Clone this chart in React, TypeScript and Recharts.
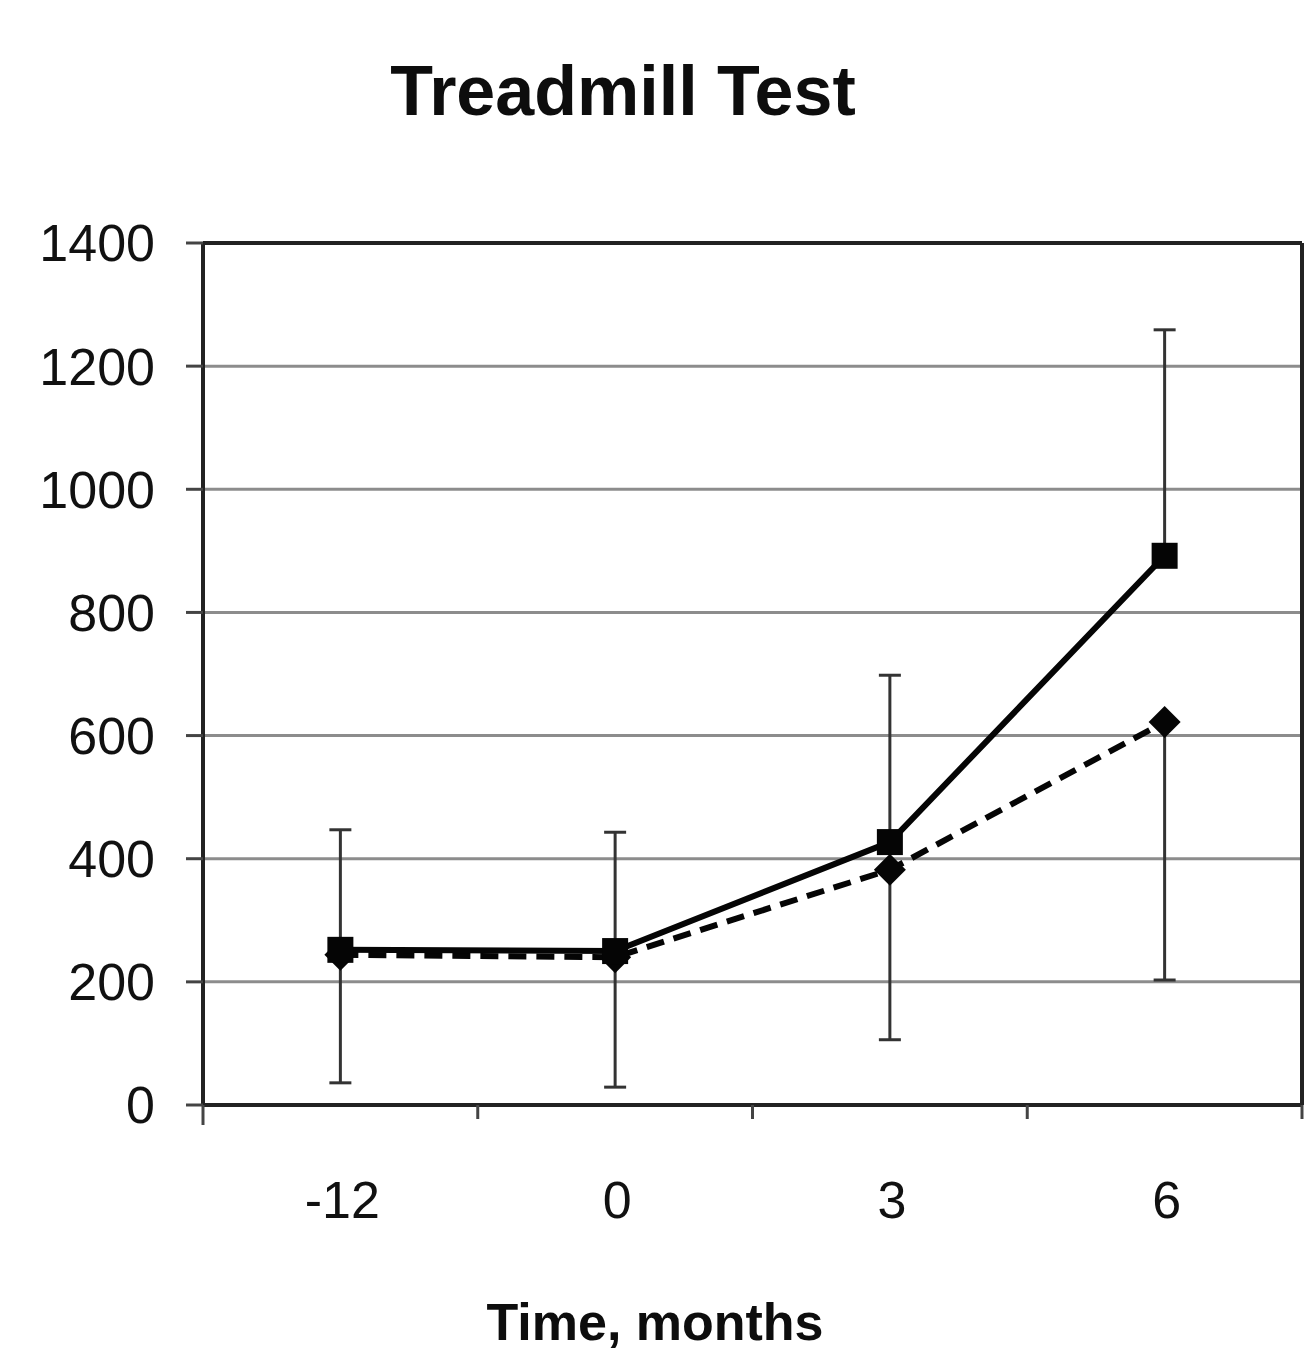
import React from 'react';
import { LineChart, Line, XAxis, YAxis, CartesianGrid, ErrorBar, ReferenceLine } from 'recharts';

// time points, months
const categories = ['-12', '0', '3', '6'];

// series drawn with squares (solid line) and diamonds (dashed line)
const squareValues = [252, 250, 427, 892];
const diamondValues = [244, 240, 382, 622];

// top of the error bar (square series) and bottom of the error bar (diamond series)
const upperBound = [447, 443, 698, 1259];
const lowerBound = [36, 29, 106, 203];

const yTicks = [0, 200, 400, 600, 800, 1000, 1200, 1400];

const data = categories.map((c, i) => ({
    x: i + 0.5,
    label: c,
    square: squareValues[i],
    diamond: diamondValues[i],
    squareErr: [0, upperBound[i] - squareValues[i]],
    diamondErr: [diamondValues[i] - lowerBound[i], 0],
}));

const FONT = '"Liberation Sans", Arial, Helvetica, sans-serif';

const SquareDot = (props: any) => {
    const { cx, cy } = props;
    if (cx == null || cy == null) return null;
    return <rect key={`sq-${cx}`} x={cx - 13} y={cy - 13} width={26} height={26} fill="#050505" />;
};

const DiamondDot = (props: any) => {
    const { cx, cy } = props;
    if (cx == null || cy == null) return null;
    const r = 16;
    return (
        <polygon
            key={`dm-${cx}`}
            points={`${cx},${cy - r} ${cx + r},${cy} ${cx},${cy + r} ${cx - r},${cy}`}
            fill="#050505"
        />
    );
};

const XTick = (props: any) => {
    const { x, y, payload } = props;
    const v = payload.value as number;
    if (Number.isInteger(v)) {
        return <line x1={x} y1={y} x2={x} y2={y + (v === 0 ? 20 : 14)} stroke="#444" strokeWidth={3} />;
    }
    const idx = Math.floor(v);
    return (
        <text x={x + 2} y={y + 113} textAnchor="middle" fontFamily={FONT} fontSize={52} fill="#111">
            {categories[idx]}
        </text>
    );
};

export default function App() {
    return (
        <div style={{ position: 'absolute', left: 0, top: 0, width: 1304, height: 1362, background: '#fff' }}>
            <div
                style={{
                    position: 'absolute',
                    left: 0,
                    top: 51,
                    width: 1246,
                    textAlign: 'center',
                    fontFamily: FONT,
                    fontWeight: 'bold',
                    fontSize: 70,
                    lineHeight: '80px',
                    color: '#0d0d0d',
                }}
            >
                Treadmill Test
            </div>
            <LineChart
                width={1304}
                height={1362}
                data={data}
                margin={{ top: 243, right: 2, bottom: 117, left: 0 }}
            >
                <CartesianGrid vertical={false} stroke="#8c8c8c" strokeWidth={3} />
                <XAxis
                    dataKey="x"
                    type="number"
                    domain={[0, 4]}
                    ticks={[0, 0.5, 1, 1.5, 2, 2.5, 3, 3.5, 4]}
                    interval={0}
                    height={140}
                    tickSize={0}
                    tickMargin={0}
                    tickLine={false}
                    tick={<XTick />}
                    axisLine={{ stroke: '#222', strokeWidth: 4 }}
                />
                <YAxis
                    domain={[0, 1400]}
                    ticks={yTicks}
                    interval={0}
                    width={203}
                    tickSize={17}
                    tickMargin={31}
                    tickLine={{ stroke: '#444', strokeWidth: 3 }}
                    axisLine={{ stroke: '#222', strokeWidth: 4 }}
                    tick={{ fontFamily: FONT, fontSize: 52, fill: '#111' }}
                />
                <ReferenceLine y={1400} stroke="#222" strokeWidth={4} />
                <ReferenceLine x={4} stroke="#222" strokeWidth={4} />
                <Line
                    dataKey="diamond"
                    stroke="#050505"
                    strokeWidth={6}
                    strokeDasharray="18 10"
                    dot={<DiamondDot />}
                    isAnimationActive={false}
                >
                    <ErrorBar dataKey="diamondErr" direction="y" width={11} stroke="#333" strokeWidth={3} />
                </Line>
                <Line
                    dataKey="square"
                    stroke="#050505"
                    strokeWidth={6}
                    dot={<SquareDot />}
                    isAnimationActive={false}
                >
                    <ErrorBar dataKey="squareErr" direction="y" width={11} stroke="#333" strokeWidth={3} />
                </Line>
            </LineChart>
            <div
                style={{
                    position: 'absolute',
                    left: 0,
                    top: 1290,
                    width: 1310,
                    textAlign: 'center',
                    fontFamily: FONT,
                    fontWeight: 'bold',
                    fontSize: 52,
                    lineHeight: '64px',
                    color: '#0d0d0d',
                }}
            >
                Time, months
            </div>
        </div>
    );
}
